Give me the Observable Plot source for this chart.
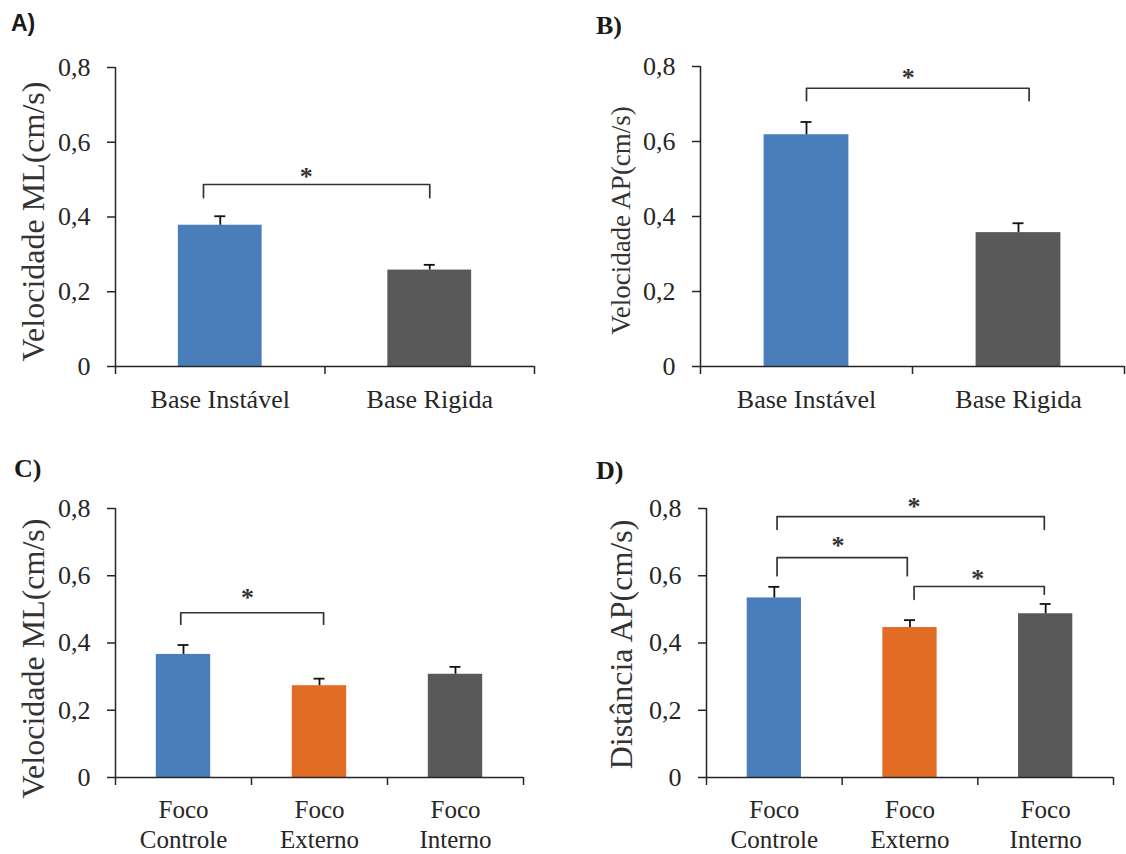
<!DOCTYPE html>
<html>
<head>
<meta charset="utf-8">
<script src="https://cdn.jsdelivr.net/npm/d3@7"></script>
<script src="https://cdn.jsdelivr.net/npm/@observablehq/plot@0.6"></script>
<style>
  body { margin: 0; background: #fff; }
  #wrap { position: relative; width: 1126px; height: 854px; background: #fff; }
  .panel { position: absolute; }
  .letter { position: absolute; font-weight: bold; color: #1a1a1a; white-space: nowrap; }
  .serif { font-family: "Liberation Serif", "Times New Roman", serif; font-size: 26px; line-height: 26px; }
  .sans { font-family: "Liberation Sans", Arial, sans-serif; font-size: 23px; line-height: 23px; }
</style>
</head>
<body>
<div id="wrap"></div>
<script>
// ---- data ----
const catsAB = ["Base Instável", "Base Rigida"];
const catsCD = ["Foco\nControle", "Foco\nExterno", "Foco\nInterno"];
const colorsAB = ["#4a7ebb", "#595959"];
const colorsCD = ["#4a7ebb", "#e36c25", "#595959"];
const yTicks = [0, 0.2, 0.4, 0.6, 0.8];

const meanA = [0.378, 0.258];
const seA   = [0.024, 0.014];
const meanB = [0.618, 0.357];
const seB   = [0.034, 0.025];
const meanC = [0.366, 0.273, 0.307];
const seC   = [0.028, 0.021, 0.022];
const meanD = [0.534, 0.446, 0.487];
const seD   = [0.033, 0.022, 0.029];

// significance brackets (positions in category units, heights in data units)
const sigA = [{from: 0.42, to: 1.50, y: 0.487, legFrom: 0.452, legTo: 0.452, starX: 0.91, starY: 0.525}];
const sigB = [{from: 0.50, to: 1.55, y: 0.742, legFrom: 0.709, legTo: 0.709, starX: 0.98, starY: 0.786}];
const sigC = [{from: 0.48, to: 1.53, y: 0.490, legFrom: 0.456, legTo: 0.456, starX: 0.97, starY: 0.552}];
const sigD = [
  {from: 0.52, to: 2.49, y: 0.776, legFrom: 0.738, legTo: 0.738, starX: 1.53, starY: 0.824},
  {from: 0.52, to: 1.48, y: 0.654, legFrom: 0.600, legTo: 0.600, starX: 0.97, starY: 0.706},
  {from: 1.53, to: 2.49, y: 0.568, legFrom: 0.530, legTo: 0.545, starX: 2.00, starY: 0.610}
];

const labelA = "Velocidade ML(cm/s)";
const labelB = "Velocidade AP(cm/s)";
const labelC = "Velocidade ML(cm/s)";
const labelD = "Distância AP(cm/s)";

// ---- layout ----
const panels = [
  {letter: "A)", letterClass: "sans", letterLeft: 11, letterTop: 12,
   left: 0, top: 0, width: 560, height: 420, ml: 115, mr: 26, mt: 67, mb: 54,
   cats: catsAB, colors: colorsAB, mean: meanA, se: seA, sig: sigA,
   label: labelA, labelSize: 32, labelX: 33, labelY: 221, catDy: 20, catSize: 26},
  {letter: "B)", letterClass: "serif", letterLeft: 596, letterTop: 13,
   left: 560, top: 0, width: 566, height: 420, ml: 140, mr: 2, mt: 66, mb: 54,
   cats: catsAB, colors: colorsAB, mean: meanB, se: seB, sig: sigB,
   label: labelB, labelSize: 27, labelX: 61, labelY: 220, catDy: 20, catSize: 26},
  {letter: "C)", letterClass: "serif", letterLeft: 14, letterTop: 456,
   left: 0, top: 430, width: 560, height: 420, ml: 115, mr: 37, mt: 78, mb: 73,
   cats: catsCD, colors: colorsCD, mean: meanC, se: seC, sig: sigC,
   label: labelC, labelSize: 32, labelX: 33, labelY: 228, catDy: 20, catSize: 25},
  {letter: "D)", letterClass: "serif", letterLeft: 596, letterTop: 458,
   left: 560, top: 430, width: 566, height: 420, ml: 146, mr: 13, mt: 78, mb: 73,
   cats: catsCD, colors: colorsCD, mean: meanD, se: seD, sig: sigD,
   label: labelD, labelSize: 32, labelX: 61, labelY: 214, catDy: 20, catSize: 25}
];

const ink = "#262626";
const fmt = d => d === 0 ? "0" : d3.format(".1f")(d).replace(".", ",");
const wrap = document.getElementById("wrap");

for (const p of panels) {
  const n = p.cats.length;
  const rows = p.cats.map((c, i) => ({cat: c, pos: i + 0.5, mean: p.mean[i], se: p.se[i], color: p.colors[i]}));
  const pxPerUnit = (p.width - p.ml - p.mr) / n;
  const cap = 5.5 / pxPerUnit;
  const pts = [];
  p.sig.forEach((s, k) => {
    pts.push({id: k, x: s.from, y: s.legFrom});
    pts.push({id: k, x: s.from, y: s.y});
    pts.push({id: k, x: s.to, y: s.y});
    pts.push({id: k, x: s.to, y: s.legTo});
  });
  const frameMidY = (p.mt + p.height - p.mb) / 2;

  const chart = Plot.plot({
    width: p.width,
    height: p.height,
    marginLeft: p.ml,
    marginRight: p.mr,
    marginTop: p.mt,
    marginBottom: p.mb,
    x: {domain: [0, n]},
    y: {domain: [0, 0.8]},
    color: {type: "identity"},
    style: {
      fontFamily: "'Liberation Serif', 'Times New Roman', serif",
      fontSize: "26px",
      color: ink,
      background: "transparent",
      overflow: "visible"
    },
    marks: [
      Plot.rectY(rows, {x1: d => d.pos - 0.2, x2: d => d.pos + 0.2, y: "mean", fill: "color"}),
      Plot.ruleX(rows, {x: "pos", y1: "mean", y2: d => d.mean + d.se, stroke: "#111", strokeWidth: 1.8}),
      Plot.ruleY(rows, {y: d => d.mean + d.se, x1: d => d.pos - cap, x2: d => d.pos + cap, stroke: "#111", strokeWidth: 1.8}),
      Plot.line(pts, {x: "x", y: "y", z: "id", stroke: "#333", strokeWidth: 1.7}),
      Plot.text(p.sig, {x: "starX", y: "starY", text: () => "*", fontSize: 26, dy: 6, fill: "#333", fontWeight: "bold"}),
      Plot.axisY({ticks: yTicks, tickFormat: fmt, tickSize: 8, tickPadding: 17, label: null, stroke: ink, strokeWidth: 1.5}),
      Plot.axisX({ticks: d3.range(n + 1), tickFormat: () => "", tickSize: 8, label: null, stroke: ink, strokeWidth: 1.5}),
      Plot.ruleX([0], {stroke: ink, strokeWidth: 1.5}),
      Plot.ruleY([0], {stroke: ink, strokeWidth: 1.5}),
      Plot.text(rows, {x: "pos", frameAnchor: "bottom", text: "cat", lineAnchor: "top", dy: p.catDy, fontSize: p.catSize, lineHeight: 1.17, fill: ink}),
      Plot.text([p.label], {text: d => d, frameAnchor: "left", rotate: -90, dx: p.labelX - p.ml, dy: p.labelY - frameMidY,
        fontSize: p.labelSize, textAnchor: "middle", lineAnchor: "middle", fill: "#333"})
    ]
  });
  const holder = document.createElement("div");
  holder.className = "panel";
  holder.style.left = p.left + "px";
  holder.style.top = p.top + "px";
  holder.appendChild(chart);
  wrap.appendChild(holder);

  const lt = document.createElement("div");
  lt.className = "letter " + p.letterClass;
  lt.style.left = p.letterLeft + "px";
  lt.style.top = p.letterTop + "px";
  lt.textContent = p.letter;
  wrap.appendChild(lt);
}
</script>
</body>
</html>
